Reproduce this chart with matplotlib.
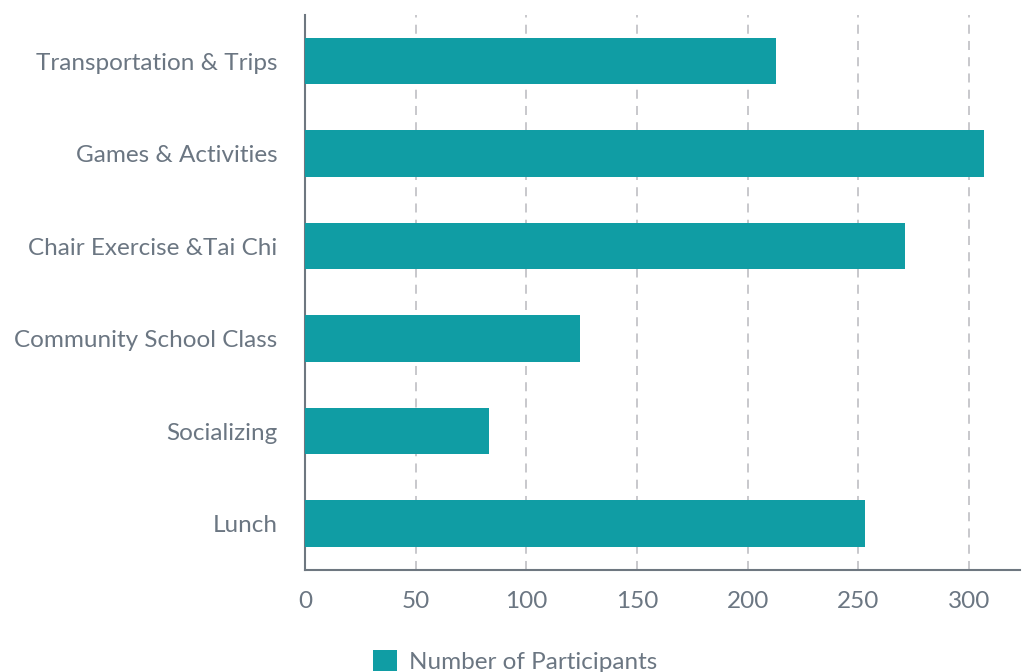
import matplotlib.pyplot as plt
from matplotlib.patches import Patch

categories = ['Lunch', 'Socializing', 'Community School Class',
              'Chair Exercise &Tai Chi', 'Games & Activities', 'Transportation & Trips']
participants = [253, 83, 124, 271, 307, 213]
xticks = [0, 50, 100, 150, 200, 250, 300]

bar_color = '#109da4'
text_color = '#6b7682'
spine_color = '#6e7780'

plt.rcParams['font.family'] = ['Lato', 'DejaVu Sans']

fig = plt.figure(figsize=(10.24, 6.72), dpi=100)
ax = fig.add_axes([0.298, 0.152, 0.698, 0.826])

ax.barh(range(len(categories)), participants, height=0.5, color=bar_color, zorder=3)
ax.set_yticks(range(len(categories)))
ax.set_yticklabels(categories)
ax.set_xticks(xticks)
ax.set_xlim(0, 323)
ax.set_ylim(-0.5, 5.5)

ax.grid(axis='x', linestyle=(0, (5, 4)), color='#c4c4c8', linewidth=1.3, zorder=0)
ax.grid(axis='y', visible=False)

for s in ['top', 'right']:
    ax.spines[s].set_visible(False)
for s in ['left', 'bottom']:
    ax.spines[s].set_color(spine_color)
    ax.spines[s].set_linewidth(1.5)

ax.tick_params(axis='both', length=0, labelsize=17.5, colors=text_color)
ax.tick_params(axis='y', pad=20)
ax.tick_params(axis='x', pad=15)

handle = Patch(facecolor=bar_color, edgecolor='none')
fig.legend([handle], ['Number of Participants'], loc='upper center',
           bbox_to_anchor=(0.503, 0.066), frameon=False, fontsize=17.5,
           labelcolor=text_color, handlelength=1.0, handleheight=1.0,
           handletextpad=0.5)

fig.savefig('out.png', dpi=100)
